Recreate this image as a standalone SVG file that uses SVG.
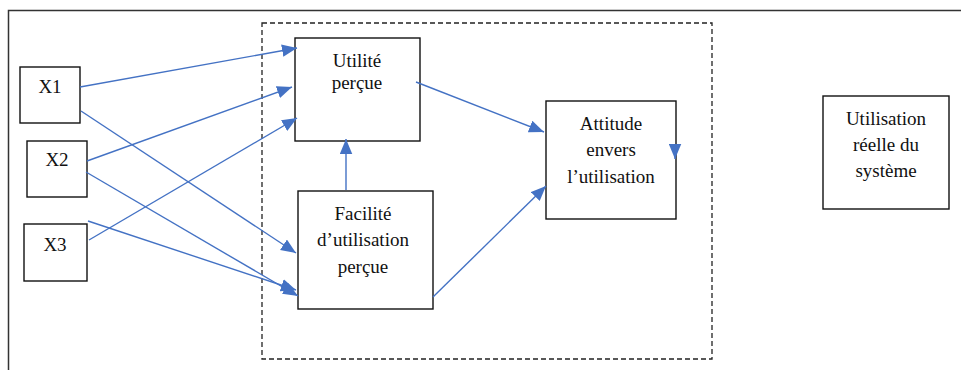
<svg xmlns="http://www.w3.org/2000/svg" width="961" height="370" viewBox="0 0 961 370">
<style>
.box{fill:#fff;stroke:#111;stroke-width:1.4}
.t{font-family:'Liberation Serif','Times New Roman',serif;font-size:19px;fill:#111;text-anchor:middle}
.c{stroke:#4472C4;stroke-width:1.4;fill:none;marker-end:url(#ah)}
</style>
<defs>
<marker id="ah" viewBox="0 0 12 10" refX="12" refY="5" markerWidth="15" markerHeight="13" markerUnits="userSpaceOnUse" orient="auto">
<path d="M0,0 L12,5 L0,10 z" fill="#4472C4"/>
</marker>
</defs>
<rect width="961" height="370" fill="#fff"/>
<path d="M8.5,372 V10.5 H963" fill="none" stroke="#333" stroke-width="1.5"/>
<rect id="group-dashed" x="262" y="23" width="450" height="336" fill="none" stroke="#222" stroke-width="1.3" stroke-dasharray="5,3"/>
<g id="x1"><rect class="box" x="20" y="67" width="60" height="56"/><text class="t" x="50" y="93">X1</text></g>
<g id="x2"><rect class="box" x="27" y="141" width="60" height="56"/><text class="t" x="57" y="166">X2</text></g>
<g id="x3"><rect class="box" x="24" y="224" width="63" height="57"/><text class="t" x="55" y="251">X3</text></g>
<g id="utilite"><rect class="box" x="295" y="38" width="125" height="103"/><text class="t" x="357" y="67">Utilité</text><text class="t" x="357" y="89">perçue</text></g>
<g id="facilite"><rect class="box" x="298" y="191" width="135" height="118"/><text class="t" x="363" y="220">Facilité</text><text class="t" x="363" y="246">d’utilisation</text><text class="t" x="363" y="273">perçue</text></g>
<g id="attitude"><rect class="box" x="546" y="101" width="130" height="118"/><text class="t" x="611" y="130">Attitude</text><text class="t" x="611" y="156">envers</text><text class="t" x="611" y="183">l’utilisation</text></g>
<g id="utilisation"><rect class="box" x="823" y="96" width="126" height="113"/><text class="t" x="886" y="125">Utilisation</text><text class="t" x="886" y="151">réelle du</text><text class="t" x="886" y="177">système</text></g>
<g id="connectors">
<line class="c" x1="80" y1="87" x2="297" y2="48"/>
<line class="c" x1="87" y1="161" x2="292" y2="87"/>
<line class="c" x1="89" y1="240" x2="297" y2="118"/>
<line class="c" x1="81" y1="111" x2="296" y2="253"/>
<line class="c" x1="86" y1="172" x2="298" y2="296"/>
<line class="c" x1="88" y1="221" x2="296" y2="290"/>
<line class="c" x1="346" y1="190" x2="346" y2="139"/>
<line class="c" x1="416" y1="82" x2="544" y2="132"/>
<line class="c" x1="433" y1="297" x2="546" y2="186"/>
<line class="c" x1="675" y1="146" x2="675" y2="159"/>
</g>
</svg>
